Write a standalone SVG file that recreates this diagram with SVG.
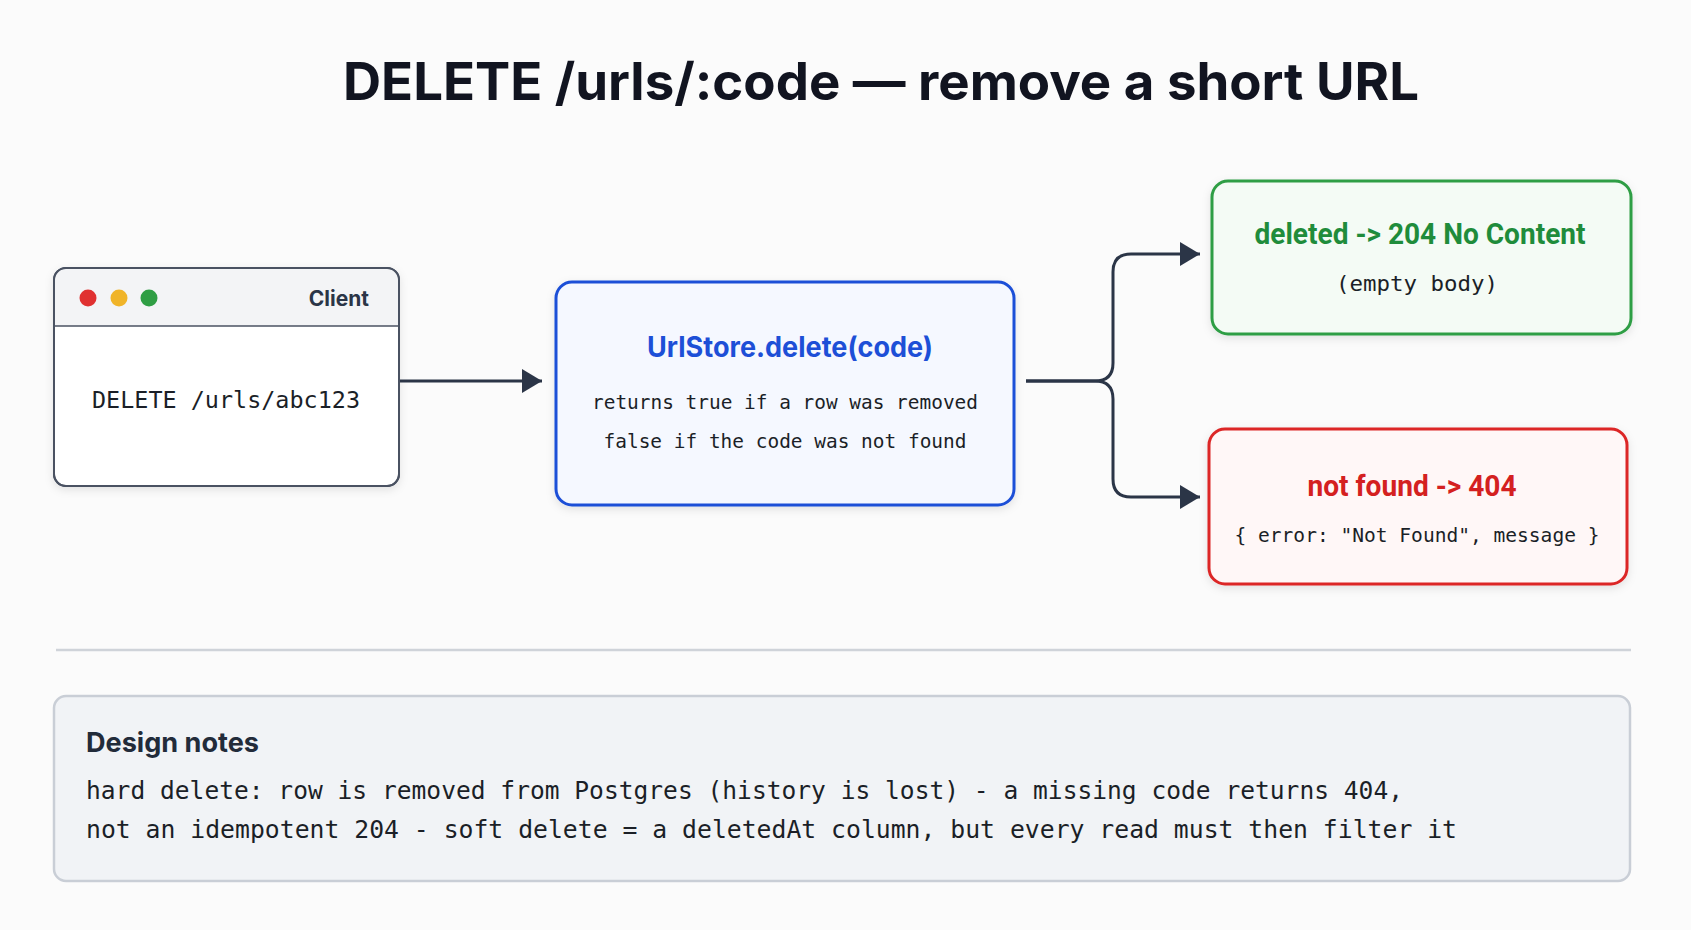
<svg xmlns="http://www.w3.org/2000/svg" width="1691" height="930" viewBox="0 0 1691 930">
<defs>
<marker id="arr" markerUnits="userSpaceOnUse" markerWidth="22" markerHeight="24" refX="20" refY="12" orient="auto">
<path d="M0,0 L20,12 L0,24 Z" fill="#2b3547"/>
</marker>
<filter id="sh" x="-10%" y="-10%" width="120%" height="130%">
<feDropShadow dx="0" dy="3" stdDeviation="4" flood-color="#000" flood-opacity="0.10"/>
</filter>
<style>
.title{font-family:Inter,"Liberation Sans",sans-serif;font-weight:700;fill:#111420}
.mono{font-family:"DejaVu Sans Mono","Liberation Mono",monospace;fill:#1b1f27}
.bold{font-family:Inter,Roboto,"Liberation Sans",sans-serif;font-weight:700}
.cond{font-family:Roboto,"Liberation Sans",sans-serif;font-weight:700;font-variant-ligatures:none;font-feature-settings:"calt" 0,"liga" 0}
.conn{fill:none;stroke:#2b3547;stroke-width:3}
</style>
</defs>
<rect width="1691" height="930" fill="#fbfbfb"/>
<text class="title" x="881" y="100" font-size="52" text-anchor="middle" textLength="1076" lengthAdjust="spacingAndGlyphs">DELETE /urls/:code — remove a short URL</text>

<g id="client">
<rect x="54" y="268" width="345" height="218" rx="12" fill="#ffffff" stroke="#4a5262" stroke-width="2" filter="url(#sh)"/>
<path d="M55,326 V280 Q55,269 66,269 H387 Q398,269 398,280 V326 Z" fill="#f3f4f6"/>
<line x1="55" y1="326" x2="398" y2="326" stroke="#4a5262" stroke-width="1.5"/>
<rect x="54" y="268" width="345" height="218" rx="12" fill="none" stroke="#4a5262" stroke-width="2"/>
<circle cx="88" cy="298" r="8.5" fill="#e03131"/>
<circle cx="119" cy="298" r="8.5" fill="#f0b429"/>
<circle cx="149" cy="298" r="8.5" fill="#2f9e44"/>
<text class="bold" x="369" y="306" font-size="21" text-anchor="end" fill="#2b3547">Client</text>
<text class="mono" x="226" y="408" font-size="23.5" text-anchor="middle" textLength="268" lengthAdjust="spacingAndGlyphs">DELETE /urls/abc123</text>
</g>

<g id="store">
<rect x="556" y="282" width="458" height="223" rx="16" fill="#f5f8ff" stroke="#1d4fd7" stroke-width="3" filter="url(#sh)"/>
<text class="bold" x="790" y="357" font-size="28" text-anchor="middle" fill="#1d4fd7" textLength="286" lengthAdjust="spacingAndGlyphs">UrlStore.delete(code)</text>
<text class="mono" x="785" y="409" font-size="19.5" text-anchor="middle" textLength="386" lengthAdjust="spacingAndGlyphs">returns true if a row was removed</text>
<text class="mono" x="785" y="448" font-size="19.5" text-anchor="middle" textLength="363" lengthAdjust="spacingAndGlyphs">false if the code was not found</text>
</g>

<g id="deleted">
<rect x="1212" y="181" width="419" height="153" rx="16" fill="#f4fbf5" stroke="#2f9e44" stroke-width="3" filter="url(#sh)"/>
<text class="cond" x="1420" y="244" font-size="29" text-anchor="middle" fill="#1f8c3b" textLength="331" lengthAdjust="spacingAndGlyphs">deleted -&gt; 204 No Content</text>
<text class="mono" x="1417" y="291" font-size="22" text-anchor="middle" textLength="162" lengthAdjust="spacingAndGlyphs">(empty body)</text>
</g>

<g id="notfound">
<rect x="1209" y="429" width="418" height="155" rx="16" fill="#fff7f7" stroke="#dc2626" stroke-width="3" filter="url(#sh)"/>
<text class="cond" x="1412" y="496" font-size="29" text-anchor="middle" fill="#d42020" textLength="209" lengthAdjust="spacingAndGlyphs">not found -&gt; 404</text>
<text class="mono" x="1417" y="542" font-size="19.5" text-anchor="middle" textLength="365" lengthAdjust="spacingAndGlyphs">{ error: "Not Found", message }</text>
</g>

<g id="connectors">
<line class="conn" x1="400" y1="381" x2="542" y2="381" marker-end="url(#arr)"/>
<path class="conn" d="M1026,381 H1095 Q1113,381 1113,363 V272 Q1113,254 1131,254 H1200" marker-end="url(#arr)"/>
<path class="conn" d="M1026,381 H1095 Q1113,381 1113,399 V479 Q1113,497 1131,497 H1200" marker-end="url(#arr)"/>
</g>

<line x1="56" y1="650" x2="1631" y2="650" stroke="#cfd3d9" stroke-width="2.5"/>

<g id="notes">
<rect x="54" y="696" width="1576" height="185" rx="12" fill="#f1f3f6" stroke="#c9ced6" stroke-width="2.5"/>
<text class="bold" x="86" y="752" font-size="27" fill="#222b3a" textLength="173" lengthAdjust="spacingAndGlyphs">Design notes</text>
<text class="mono" x="86" y="799" font-size="24.5" fill="#222b3a" textLength="1317" lengthAdjust="spacingAndGlyphs">hard delete: row is removed from Postgres (history is lost) - a missing code returns 404,</text>
<text class="mono" x="86" y="838" font-size="24.5" fill="#222b3a" textLength="1371" lengthAdjust="spacingAndGlyphs">not an idempotent 204 - soft delete = a deletedAt column, but every read must then filter it</text>
</g>
</svg>
